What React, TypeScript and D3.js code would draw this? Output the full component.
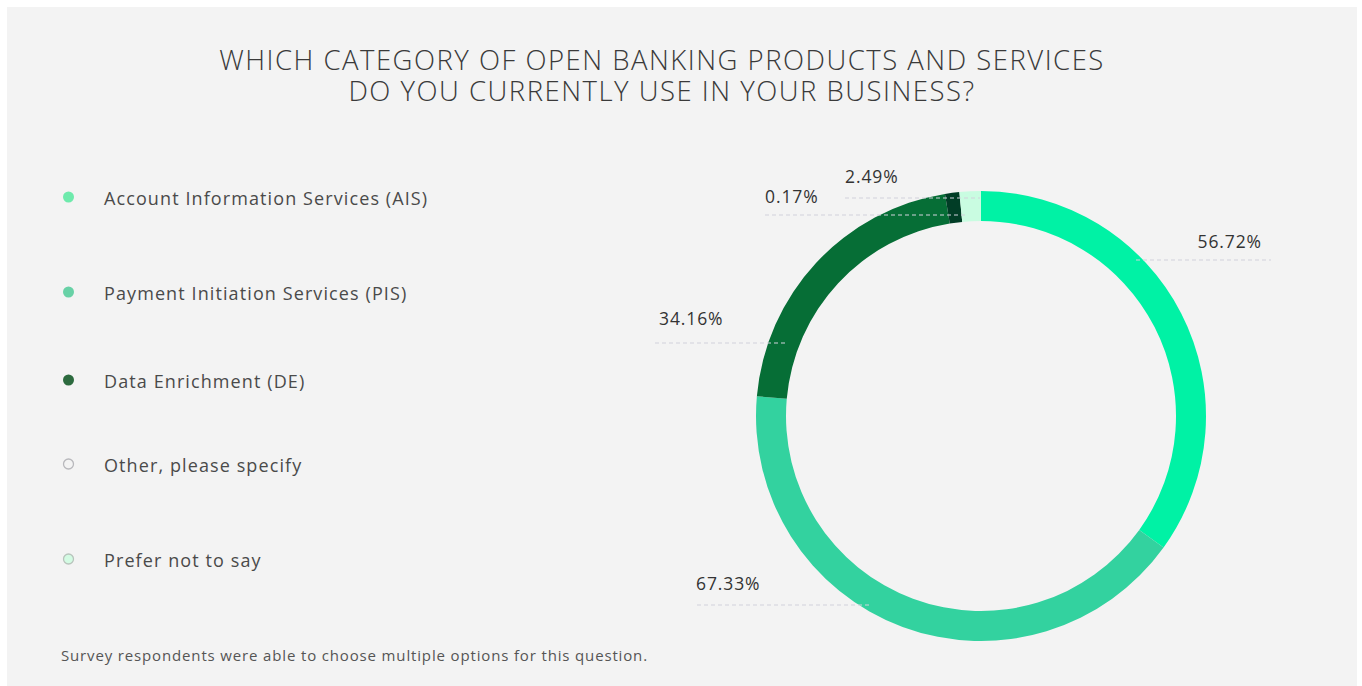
import React from "react";
import * as d3 from "d3";

const categories = [
  "Account Information Services (AIS)",
  "Payment Initiation Services (PIS)",
  "Data Enrichment (DE)",
  "Other, please specify",
  "Prefer not to say",
];
const values = [56.72, 67.33, 34.16, 0.17, 2.49];
const valueLabels = ["56.72%", "67.33%", "34.16%", "0.17%", "2.49%"];

const titleLines = [
  "WHICH CATEGORY OF OPEN BANKING PRODUCTS AND SERVICES",
  "DO YOU CURRENTLY USE IN YOUR BUSINESS?",
];
const footnote = "Survey respondents were able to choose multiple options for this question.";

// styles
const sliceColors = ["#00f2a5", "#33d29f", "#066e36", "#013d26", "#c9fce1"];
const legendFill = ["#6eeaac", "#68d1a6", "#2c6a3e", "#f3f3f3", "#d3fbe3"];
const legendStroke = ["none", "none", "none", "#b8b8bc", "#b8c4bc"];
const legendY = [197, 292, 380, 464, 559];

// label layout (leader lines)
const labelLayout = [
  { anchor: "end", tx: 1262, ty: 248, ly: 260, x0: 1136, x1: 1271 },
  { anchor: "start", tx: 696, ty: 590, ly: 605, x0: 697, x1: 872 },
  { anchor: "start", tx: 659, ty: 325, ly: 343, x0: 655, x1: 786 },
  { anchor: "start", tx: 765, ty: 203, ly: 215, x0: 765, x1: 967 },
  { anchor: "start", tx: 845, ty: 183, ly: 198, x0: 845, x1: 980 },
];

const W = 1362;
const H = 686;
const cx = 981;
const cy = 416;
const rOuter = 225;
const rInner = 195;
const minAngleDeg = 3.7;

const FONT = "'Open Sans', 'Noto Sans', Lato, sans-serif";

export default function App() {
  // proportional angles with a minimum visible slice angle
  const total = d3.sum(values);
  const minA = (minAngleDeg * Math.PI) / 180;
  const raw = values.map((v) => (v / total) * 2 * Math.PI);
  const small = raw.map((a) => a < minA);
  const fixed = d3.sum(raw.filter((a, i) => small[i]).map(() => minA));
  const restRaw = d3.sum(raw.filter((a, i) => !small[i]));
  const scaleK = (2 * Math.PI - fixed) / restRaw;
  const angles = raw.map((a, i) => (small[i] ? minA : a * scaleK));
  const pie = d3
    .pie<number>()
    .sort(null)
    .value((d) => d);
  const arcsData = pie(angles);
  const arc = d3.arc<d3.PieArcDatum<number>>().innerRadius(rInner).outerRadius(rOuter);

  return (
    <svg
      width={W}
      height={H}
      style={{ position: "absolute", left: 0, top: 0, background: "#ffffff" }}
    >
      <rect x={7} y={7} width={1350} height={679} fill="#f3f3f3" />
      {titleLines.map((t, i) => (
        <text
          key={i}
          x={662}
          y={70 + i * 31}
          textAnchor="middle"
          fontFamily={FONT}
          fontWeight={300}
          fontSize={27.5}
          letterSpacing={1.5}
          fill="#3a3a3a"
        >
          {t}
        </text>
      ))}

      {categories.map((c, i) => (
        <g key={c}>
          <circle
            cx={68.5}
            cy={legendY[i]}
            r={legendStroke[i] === "none" ? 5.5 : 5}
            fill={legendFill[i]}
            stroke={legendStroke[i]}
            strokeWidth={1.3}
          />
          <text
            x={104}
            y={legendY[i] + 8}
            fontFamily={FONT}
            fontSize={18}
            letterSpacing={1.1}
            fill="#4a4a4a"
          >
            {c}
          </text>
        </g>
      ))}

      <g transform={`translate(${cx},${cy})`}>
        {arcsData.map((d, i) => (
          <path key={i} d={arc(d) || ""} fill={sliceColors[i]} />
        ))}
      </g>

      {labelLayout.map((l, i) => (
        <g key={i}>
          <line
            x1={l.x0}
            x2={l.x1}
            y1={l.ly}
            y2={l.ly}
            stroke="#d2d2dc"
            strokeWidth={1.2}
            strokeDasharray="4,3"
          />
          <text
            x={l.tx}
            y={l.ty}
            textAnchor={l.anchor as any}
            fontFamily={FONT}
            fontSize={17.5}
            letterSpacing={0.9}
            fill="#333333"
          >
            {valueLabels[i]}
          </text>
        </g>
      ))}

      <text x={61} y={661} fontFamily={FONT} fontSize={15} letterSpacing={0.85} fill="#555555">
        {footnote}
      </text>
    </svg>
  );
}
